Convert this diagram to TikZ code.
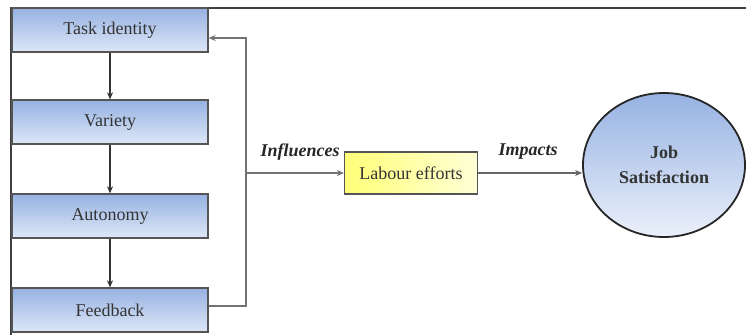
\documentclass[tikz,border=0pt]{standalone}
\usepackage{fontspec}
\setmainfont{Liberation Serif}
\usepackage{xcolor}
\usetikzlibrary{shapes.geometric, arrows.meta, positioning}
\definecolor{boxtop}{RGB}{150,178,226}
\definecolor{boxbottom}{RGB}{222,231,247}
\definecolor{labourleft}{RGB}{255,255,120}
\definecolor{labourright}{RGB}{255,255,215}
\definecolor{edgegray}{RGB}{85,85,85}

\begin{document}
\begin{tikzpicture}[
  x=1pt, y=-1pt,
  factor/.style={rectangle, draw=edgegray, line width=1.3pt, top color=boxtop, bottom color=boxbottom, minimum width=196pt, minimum height=44pt, font=\fontsize{18}{20}\selectfont, text=black!80},
  effort/.style={rectangle, draw=edgegray, line width=1.3pt, left color=labourleft, right color=labourright, minimum width=133pt, minimum height=42pt, font=\fontsize{18}{20}\selectfont, text=black!80},
  outcome/.style={ellipse, draw=black!85, line width=1.8pt, top color=boxtop, bottom color=boxbottom!60, minimum width=162pt, minimum height=144pt, align=center, font=\fontsize{18}{25}\selectfont\bfseries, text=black!80},
  tag/.style={font=\fontsize{18}{20}\selectfont\bfseries\itshape, text=black!85},
  arrow/.style={-{Stealth[length=7pt, width=6pt]}, line width=1.5pt, draw=black!80},
  link/.style={line width=1.5pt, draw=black!55}
]
\useasboundingbox (0,0) rectangle (746,335);
% frame
\draw[line width=1.5pt, black!75] (11,335) -- (11,8) -- (746,8);

\node[factor] (task) at (110,30) {Task identity};
\node[factor] (variety) at (110,122) {Variety};
\node[factor] (autonomy) at (110,216) {Autonomy};
\node[factor] (feedback) at (110,310) {Feedback};
\node[effort] (labour) at (411,173) {Labour efforts};
\node[outcome] (job) at (664,165) {Job\\Satisfaction};
\coordinate (loop) at (246,173);

\draw[arrow] (task) -- (variety);
\draw[arrow] (variety) -- (autonomy);
\draw[arrow] (autonomy) -- (feedback);

\draw[link] ([yshift=4pt]feedback.east) -| (loop);
\draw[link, arrow, draw=black!55] (loop) |- ([yshift=-8pt]task.east);
\draw[link, arrow, draw=black!55] (loop) -- (labour);
\draw[arrow, draw=black!60] (labour) -- (job.west |- labour.east);

\node[tag] (influences) at (300,152) {Influences};
\node[tag] (impacts) at (528,152) {Impacts};
\end{tikzpicture}
\end{document}
